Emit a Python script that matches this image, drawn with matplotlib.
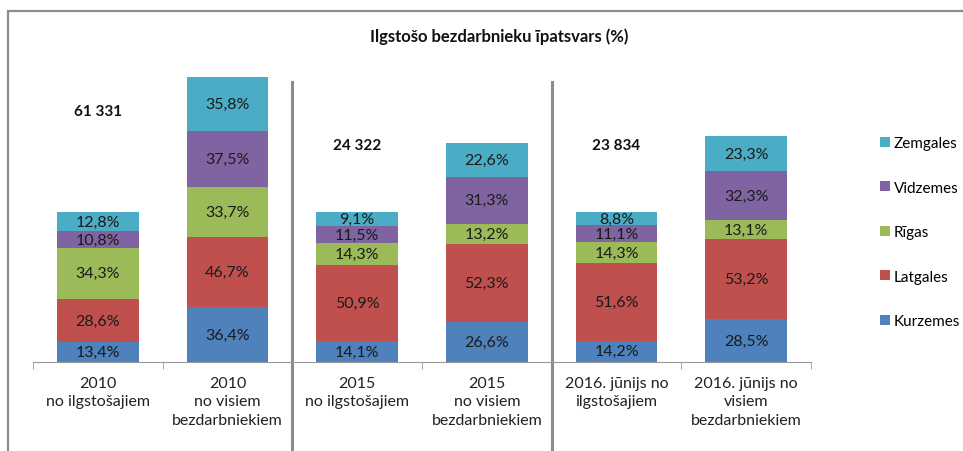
import numpy as np
import matplotlib
matplotlib.use("Agg")
import matplotlib.pyplot as plt
from matplotlib.patches import Rectangle
import matplotlib.transforms as mtransforms

plt.rcParams['font.family'] = ['Lato', 'DejaVu Sans']

# Data
categories = ["2010\nno ilgstošajiem", "2010\nno visiem\nbezdarbniekiem",
              "2015\nno ilgstošajiem", "2015\nno visiem\nbezdarbniekiem",
              "2016. jūnijs no\nilgstošajiem", "2016. jūnijs no\nvisiem\nbezdarbniekiem"]
regions = ["Kurzemes", "Latgales", "Rīgas", "Vidzemes", "Zemgales"]
kurzemes = [13.4, 36.4, 14.1, 26.6, 14.2, 28.5]
latgales = [28.6, 46.7, 50.9, 52.3, 51.6, 53.2]
rigas = [34.3, 33.7, 14.3, 13.2, 14.3, 13.1]
vidzemes = [10.8, 37.5, 11.5, 31.3, 11.1, 32.3]
zemgales = [12.8, 35.8, 9.1, 22.6, 8.8, 23.3]
totals = ["61 331", "24 322", "23 834"]
total_pos = [0, 2, 4]
total_y = [167, 145, 145]

colors = ["#4F81BD", "#C0504D", "#9BBB59", "#8064A2", "#4BACC6"]
series = [kurzemes, latgales, rigas, vidzemes, zemgales]

W, H = 963, 452
fig = plt.figure(figsize=(W / 100, H / 100), dpi=100)
ax = fig.add_axes([33 / W, (H - 363) / H, (811 - 33) / W, (363 - 30) / H])

x = np.arange(len(categories))
bottom = np.zeros(len(categories))
handles = []
for vals, col, name in zip(series, colors, regions):
    vals = np.array(vals)
    b = ax.bar(x, vals, width=0.63, bottom=bottom, color=col, label=name)
    handles.append(b)
    for xi, v, bt in zip(x, vals, bottom):
        ax.text(xi, bt + v / 2, f"{v:.1f}%".replace(".", ","), ha="center", va="center",
                fontsize=11.5, color="#1a1a1a")
    bottom += vals

for p, t, yy in zip(total_pos, totals, total_y):
    ax.text(p, yy, t, ha="center", va="center", fontsize=11, fontweight="bold", color="#111")

ax.set_xlim(-0.5, 5.5)
ax.set_ylim(0, 222)
ax.set_yticks([])
for s in ["top", "left", "right"]:
    ax.spines[s].set_visible(False)
ax.spines["bottom"].set_color("#999999")
ax.set_xticks(x)
ax.set_xticklabels(categories, fontsize=11.5, color="#222", linespacing=1.4)
ax.tick_params(axis="x", which="major", length=0, pad=10)
ax.set_xticks(np.arange(-0.5, 6, 1), minor=True)
ax.tick_params(axis="x", which="minor", length=5, color="#999999")

# group separators
trans = mtransforms.blended_transform_factory(ax.transData, ax.transAxes)
for sx in [1.5, 3.5]:
    ax.plot([sx, sx], [(363 - 83) / 333, -0.3], transform=trans, color="#8c8c8c",
            lw=2.2, clip_on=False)

# legend
fig.legend(handles[::-1], regions[::-1], loc="upper left", bbox_to_anchor=(880 / W, 1 - 137 / H),
           frameon=False, fontsize=11, handlelength=0.65, handleheight=0.65, borderpad=0,
           borderaxespad=0, handletextpad=0.25, labelspacing=2.0)

fig.text(499 / W, 1 - 37 / H, "Ilgstošo bezdarbnieku īpatsvars (%)", ha="center", va="center",
         fontsize=12, fontweight="bold", color="#111")

# outer frame
fig.patches.append(Rectangle((8 / W, -0.1), 1.2, 1 - 12 / H + 0.1, transform=fig.transFigure,
                             fill=False, edgecolor="#8c8c8c", lw=1.6))

fig.savefig("out.png", dpi=100)
